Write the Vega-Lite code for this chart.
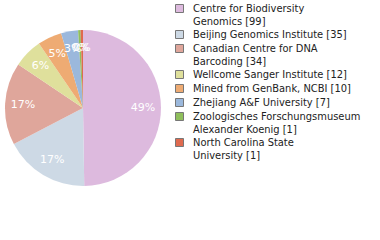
{
  "$schema": "https://vega.github.io/schema/vega-lite/v6.json",
  "width": 166,
  "height": 216,
  "padding": 0,
  "background": "white",
  "data": {"values": [
    {"name": "Centre for Biodiversity\nGenomics [99]", "count": 99, "pct": "49%", "o": 1},
    {"name": "Beijing Genomics Institute [35]", "count": 35, "pct": "17%", "o": 2},
    {"name": "Canadian Centre for DNA\nBarcoding [34]", "count": 34, "pct": "17%", "o": 3},
    {"name": "Wellcome Sanger Institute [12]", "count": 12, "pct": "6%", "o": 4},
    {"name": "Mined from GenBank, NCBI [10]", "count": 10, "pct": "5%", "o": 5},
    {"name": "Zhejiang A&F University [7]", "count": 7, "pct": "3%", "o": 6},
    {"name": "Zoologisches Forschungsmuseum\nAlexander Koenig [1]", "count": 1, "pct": "0%", "o": 7},
    {"name": "North Carolina State\nUniversity [1]", "count": 1, "pct": "0%", "o": 8}
  ]},
  "encoding": {
    "theta": {"field": "count", "type": "quantitative", "stack": true},
    "order": {"field": "o", "type": "quantitative"}
  },
  "layer": [
    {"mark": {"type": "arc", "outerRadius": 78},
     "encoding": {
      "color": {
      "field": "name", "type": "nominal",
      "sort": {"field": "o"},
      "scale": {
        "domain": ["Centre for Biodiversity\nGenomics [99]", "Beijing Genomics Institute [35]", "Canadian Centre for DNA\nBarcoding [34]", "Wellcome Sanger Institute [12]", "Mined from GenBank, NCBI [10]", "Zhejiang A&F University [7]", "Zoologisches Forschungsmuseum\nAlexander Koenig [1]", "North Carolina State\nUniversity [1]"],
        "range": ["#ddbade", "#cdd9e5", "#dfa69b", "#dfe09c", "#eeab73", "#9bb8dc", "#8fbf5c", "#df6a4f"]
      },
      "legend": {
        "orient": "none", "legendX": 174, "legendY": 3,
        "title": null,
        "labelExpr": "split(datum.label, '\\n')",
        "labelFont": "DejaVu Sans Condensed",
        "labelFontSize": 11,
        "labelColor": "#222",
        "labelLimit": 300,
        "symbolType": "square",
        "symbolSize": 64,
        "symbolStrokeColor": "#777",
        "symbolStrokeWidth": 1,
        "rowPadding": 1,
        "labelOffset": 8
      }
    }}},
    {"mark": {"type": "text", "radius": 60, "font": "DejaVu Sans", "fontSize": 11},
     "encoding": {"text": {"field": "pct"}, "color": {"value": "white"}}}
  ],
  "config": {"view": {"stroke": null}}
}
